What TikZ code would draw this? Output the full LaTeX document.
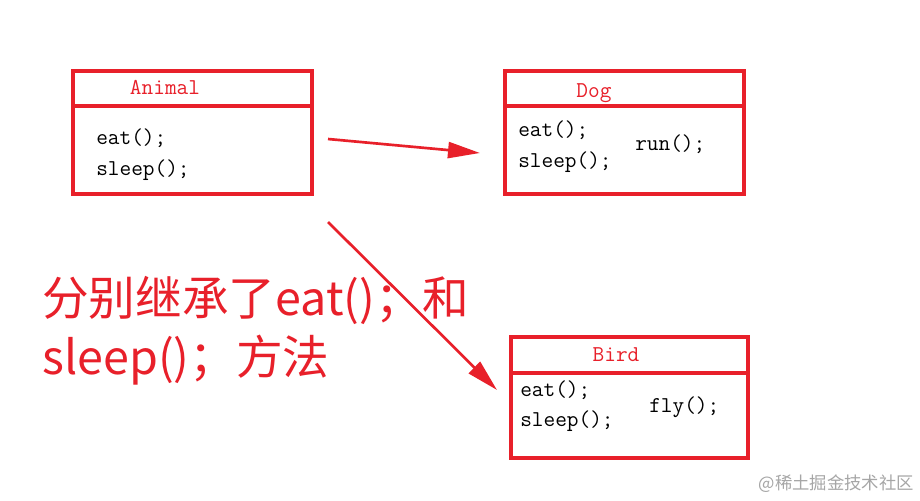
\documentclass[tikz,border=0pt]{standalone}
\usepackage{fontspec}
\newfontfamily\cjk{Noto Sans CJK SC}
\usetikzlibrary{arrows.meta}
\definecolor{rd}{HTML}{E8202A}
\begin{document}
\begin{tikzpicture}[x=0.75pt,y=-0.75pt,
  box/.style={draw=rd,line width=3pt,anchor=north west,inner sep=0pt},
  code/.style={font=\ttfamily\fontsize{17}{19}\selectfont,anchor=west,inner sep=0pt},
  title/.style={code,text=rd,anchor=center},
  arr/.style={rd,line width=2pt,-{Triangle[length=24pt,width=12pt]}}]
\useasboundingbox[fill=white] (0,0) rectangle (920,500);
% Animal
\node[box,minimum width=179pt,minimum height=92pt] (an) at (71,69) {};
\draw[rd,line width=3pt] (71,106) -- (311,106);
\node[title] (ant) at (165,87) {Animal};
\node[code] (a1) at (96,138) {eat();};
\node[code] (a2) at (96,170) {sleep();};
% Dog
\node[box,minimum width=179pt,minimum height=92pt] (dg) at (503,69) {};
\draw[rd,line width=3pt] (503,106) -- (742,106);
\node[title] (dgt) at (594,93) {Dog};
\node[code] (d1) at (518,130) {eat();};
\node[code] (d2) at (518,162) {sleep();};
\node[code] (d3) at (635,144) {run();};
% Bird
\node[box,minimum width=178pt,minimum height=91pt] (bd) at (509,335) {};
\draw[rd,line width=3pt] (509,373) -- (746,373);
\node[title] (bdt) at (616,355) {Bird};
\node[code] (b1) at (520,390) {eat();};
\node[code] (b2) at (520,421) {sleep();};
\node[code] (b3) at (649,407) {fly();};
% arrows
\coordinate (s1) at (328,139); \coordinate (e1) at (480,153);
\coordinate (s2) at (328,222); \coordinate (e2) at (497,390);
\draw[arr] (s1) -- (e1);
\draw[arr] (s2) -- (e2);
% text
\node[anchor=west,text=rd,font=\cjk\fontsize{35}{40}\selectfont,inner sep=0pt] (t1) at (42,300) {分别继承了eat()；和};
\node[anchor=west,text=rd,font=\cjk\fontsize{35}{40}\selectfont,inner sep=0pt] (t2) at (42,360) {sleep()；方法};
\node[anchor=east,text=gray!70,font=\cjk\fontsize{13}{15}\selectfont,inner sep=0pt] (wm) at (914,484) {@稀土掘金技术社区};
\end{tikzpicture}
\end{document}
